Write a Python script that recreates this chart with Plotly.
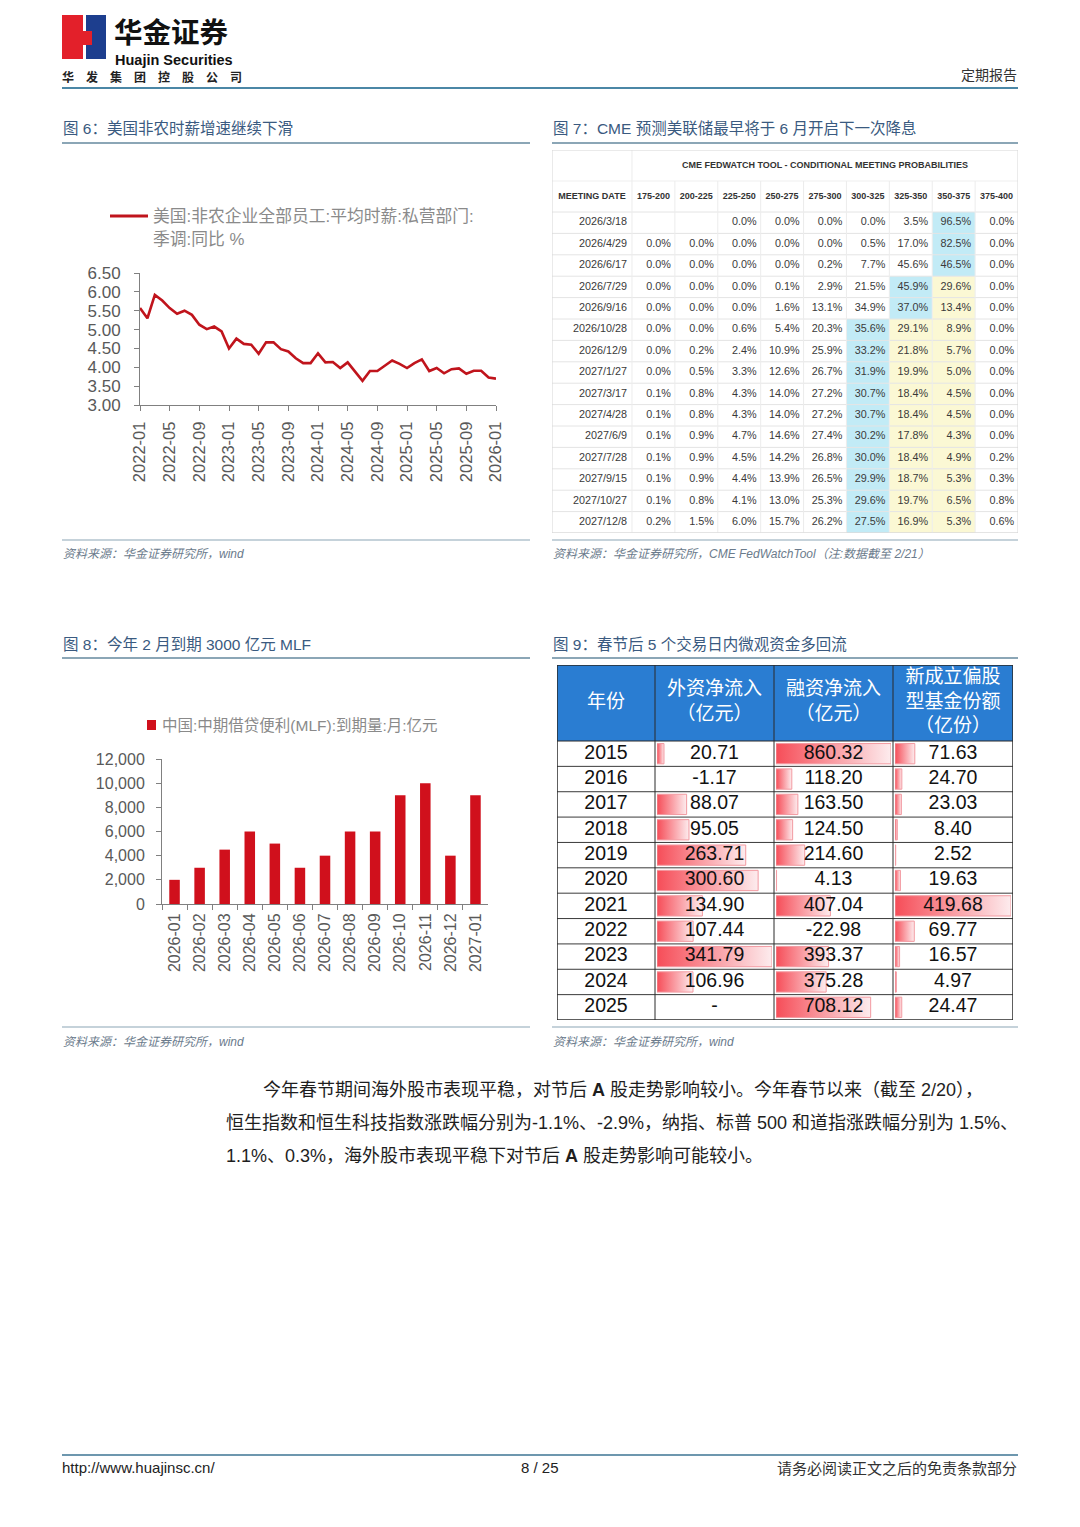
import plotly.graph_objects as go

W, H = 1080, 1527
OFF = 8  # page body margin of the html page, compensated in all placements

# ---------------- data ----------------
wage_months = [f"{y}-{m:02d}" for y in range(2022, 2026) for m in range(1, 13)] + ["2026-01"]
wage_yoy = [5.57, 5.30, 5.92, 5.77, 5.57, 5.42, 5.50, 5.39, 5.13, 5.01, 5.08, 4.95,
            4.50, 4.76, 4.62, 4.60, 4.36, 4.66, 4.66, 4.48, 4.42, 4.24, 4.11, 4.11,
            4.37, 4.13, 4.14, 3.98, 4.13, 3.89, 3.64, 3.90, 3.90, 4.04, 4.18, 4.09,
            3.98, 4.11, 4.21, 3.90, 3.98, 3.84, 3.95, 3.97, 3.83, 3.91, 3.91, 3.73,
            3.70]
wage_ticks = wage_months[::4]

mlf_months = ["2026-01", "2026-02", "2026-03", "2026-04", "2026-05", "2026-06", "2026-07",
              "2026-08", "2026-09", "2026-10", "2026-11", "2026-12", "2027-01"]
mlf_values = [2000, 3000, 4500, 6000, 5000, 3000, 4000, 6000, 6000, 9000, 10000, 4000, 9000]

fed_title = "CME FEDWATCH TOOL - CONDITIONAL MEETING PROBABILITIES"
fed_dates = ["2026/3/18", "2026/4/29", "2026/6/17", "2026/7/29", "2026/9/16", "2026/10/28",
             "2026/12/9", "2027/1/27", "2027/3/17", "2027/4/28", "2027/6/9", "2027/7/28",
             "2027/9/15", "2027/10/27", "2027/12/8"]
fed_buckets = ["175-200", "200-225", "225-250", "250-275", "275-300", "300-325",
               "325-350", "350-375", "375-400"]
fed_probs = [
    [None, None, 0.0, 0.0, 0.0, 0.0, 3.5, 96.5, 0.0],
    [0.0, 0.0, 0.0, 0.0, 0.0, 0.5, 17.0, 82.5, 0.0],
    [0.0, 0.0, 0.0, 0.0, 0.2, 7.7, 45.6, 46.5, 0.0],
    [0.0, 0.0, 0.0, 0.1, 2.9, 21.5, 45.9, 29.6, 0.0],
    [0.0, 0.0, 0.0, 1.6, 13.1, 34.9, 37.0, 13.4, 0.0],
    [0.0, 0.0, 0.6, 5.4, 20.3, 35.6, 29.1, 8.9, 0.0],
    [0.0, 0.2, 2.4, 10.9, 25.9, 33.2, 21.8, 5.7, 0.0],
    [0.0, 0.5, 3.3, 12.6, 26.7, 31.9, 19.9, 5.0, 0.0],
    [0.1, 0.8, 4.3, 14.0, 27.2, 30.7, 18.4, 4.5, 0.0],
    [0.1, 0.8, 4.3, 14.0, 27.2, 30.7, 18.4, 4.5, 0.0],
    [0.1, 0.9, 4.7, 14.6, 27.4, 30.2, 17.8, 4.3, 0.0],
    [0.1, 0.9, 4.5, 14.2, 26.8, 30.0, 18.4, 4.9, 0.2],
    [0.1, 0.9, 4.4, 13.9, 26.5, 29.9, 18.7, 5.3, 0.3],
    [0.1, 0.8, 4.1, 13.0, 25.3, 29.6, 19.7, 6.5, 0.8],
    [0.2, 1.5, 6.0, 15.7, 26.2, 27.5, 16.9, 5.3, 0.6],
]
fed_current = "350-375"

flow_headers = ["年份", "外资净流入<br>（亿元）", "融资净流入<br>（亿元）", "新成立偏股<br>型基金份额<br>（亿份）"]
flow_years = [2015, 2016, 2017, 2018, 2019, 2020, 2021, 2022, 2023, 2024, 2025]
flow_foreign = [20.71, -1.17, 88.07, 95.05, 263.71, 300.60, 134.90, 107.44, 341.79, 106.96, None]
flow_margin = [860.32, 118.20, 163.50, 124.50, 214.60, 4.13, 407.04, -22.98, 393.37, 375.28, 708.12]
flow_fund = [71.63, 24.70, 23.03, 8.40, 2.52, 19.63, 419.68, 69.77, 16.57, 4.97, 24.47]

# ---------------- styles ----------------
CJK = "Noto Sans CJK SC"
MIX = "Liberation Sans, Arial, Noto Sans CJK SC"
TITLE_C = "#3a5a80"
RULE_C = "#8ba6b6"
SRC_C = "#6b7b8c"
RED_LINE = "#c0141c"
RED_BAR = "#d0101c"
AX_C = "#808080"
TICK_C = "#595959"

fig = go.Figure()
shapes, anns = [], []


def X(px):
    return (px - OFF) / W


def Y(py):
    return 1 - (py - OFF) / H


def note(x, y, s, size, color="#222222", family=MIX, xanchor="left", yanchor="middle"):
    anns.append(dict(xref="paper", yref="paper", x=X(x), y=Y(y), text=s, showarrow=False,
                     xanchor=xanchor, yanchor=yanchor, borderpad=0,
                     font=dict(size=size, color=color, family=family)))


def pline(x0, x1, y, color, width):
    shapes.append(dict(type="line", xref="paper", yref="paper", x0=X(x0), x1=X(x1),
                       y0=Y(y), y1=Y(y), line=dict(color=color, width=width)))


def prect(x0, y0, x1, y1, fill):
    shapes.append(dict(type="rect", xref="paper", yref="paper", x0=X(x0), x1=X(x1),
                       y0=Y(y0), y1=Y(y1), fillcolor=fill, line=dict(width=0), layer="below"))


# ---------------- page header ----------------
prect(62, 15, 83, 59, "#e3202a")
prect(86, 15, 106, 59, "#1d3e8e")
prect(83, 31, 92, 45, "#e3202a")
note(113, 30, "<b>华金证券</b>", 28.5, "#111111", CJK)
note(114, 50.5, "<b>Huajin Securities</b>", 14.5, "#111111", "Liberation Sans", yanchor="top")
note(61, 76, "<b>华　发　集　团　控　股　公　司</b>", 12, "#222222", CJK)
note(1018, 74, "定期报告", 14, "#333333", CJK, xanchor="right")
pline(62, 1018, 88, "#4b87a6", 2)

# ---------------- section titles / sources ----------------
note(62, 128, "图 6：美国非农时薪增速继续下滑", 15.5, TITLE_C)
pline(62, 530, 143, RULE_C, 2)
note(552, 128, "图 7：CME 预测美联储最早将于 6 月开启下一次降息", 15.5, TITLE_C)
pline(552, 1018, 143, RULE_C, 2)
pline(62, 530, 540, RULE_C, 1.2)
pline(552, 1018, 540, RULE_C, 1.2)
note(62, 554, "<i>资料来源：华金证券研究所，wind</i>", 12, SRC_C)
note(552, 554, "<i>资料来源：华金证券研究所，CME FedWatchTool（注:数据截至 2/21）</i>", 12, SRC_C)

note(62, 644, "图 8：今年 2 月到期 3000 亿元 MLF", 15.5, TITLE_C)
pline(62, 530, 658, RULE_C, 2)
note(552, 644, "图 9：春节后 5 个交易日内微观资金多回流", 15.5, TITLE_C)
pline(552, 1018, 658, RULE_C, 2)
pline(62, 530, 1027, RULE_C, 1.2)
pline(552, 1018, 1027, RULE_C, 1.2)
note(62, 1042, "<i>资料来源：华金证券研究所，wind</i>", 12, SRC_C)
note(552, 1042, "<i>资料来源：华金证券研究所，wind</i>", 12, SRC_C)

# ---------------- Fig 6 : line chart ----------------
shapes.append(dict(type="line", xref="paper", yref="paper", x0=X(110), x1=X(148),
                   y0=Y(216), y1=Y(216), line=dict(color=RED_LINE, width=3)))
note(152, 216, "美国:非农企业全部员工:平均时薪:私营部门:", 16.8, "#8a8a8a")
note(152, 239, "季调:同比 %", 16.8, "#8a8a8a")

fig.add_trace(go.Scatter(x=wage_months, y=wage_yoy, mode="lines",
                         line=dict(color=RED_LINE, width=2.6),
                         xaxis="x", yaxis="y", hoverinfo="skip", showlegend=False))

# ---------------- Fig 8 : bar chart ----------------
prect(147, 720, 156, 730, RED_BAR)
note(161, 725, "中国:中期借贷便利(MLF):到期量:月:亿元", 15.5, "#8a8a8a")

fig.add_trace(go.Bar(x=mlf_months, y=mlf_values, marker=dict(color=RED_BAR, line=dict(width=0)),
                     width=0.42, xaxis="x2", yaxis="y2", hoverinfo="skip", showlegend=False))

# ---------------- Fig 7 : FedWatch table (axis x3/y3, pixel units) ----------------
T7_X0, T7_X1, T7_Y0, T7_Y1 = 552, 1018, 150, 533
t7_colw = [80] + [42.9] * len(fed_buckets)
t7_title_h, t7_head_h = 31, 31
t7_row_h = (T7_Y1 - T7_Y0 - t7_title_h - t7_head_h) / len(fed_dates)
t7_edges = [0]
for w_ in t7_colw:
    t7_edges.append(t7_edges[-1] + w_)
t7_w = t7_edges[-1]
t7_h = T7_Y1 - T7_Y0
GRID7 = "#e4e4e4"


def s7(**kw):
    d = dict(xref="x3", yref="y3", layer="below")
    d.update(kw)
    shapes.append(d)


cur_idx = fed_buckets.index(fed_current)
for r, row in enumerate(fed_probs):
    vals = [v if v is not None else -1 for v in row]
    m = vals.index(max(vals))
    y0 = t7_title_h + t7_head_h + r * t7_row_h
    for c in range(len(row)):
        fill = None
        if c == m:
            fill = "#c2ebf6"
        elif m < c <= cur_idx:
            fill = "#fbf8d4"
        if fill:
            s7(type="rect", x0=t7_edges[c + 1], x1=t7_edges[c + 2], y0=y0, y1=y0 + t7_row_h,
               fillcolor=fill, line=dict(width=0))

for k in range(len(fed_dates) + 1):
    yy = t7_title_h + t7_head_h + k * t7_row_h
    s7(type="line", x0=0, x1=t7_w, y0=yy, y1=yy, line=dict(color=GRID7, width=1))
s7(type="line", x0=0, x1=t7_w, y0=t7_title_h, y1=t7_title_h, line=dict(color="#efefef", width=1))
for k, e in enumerate(t7_edges[1:-1]):
    s7(type="line", x0=e, x1=e, y0=(0 if k == 0 else t7_title_h), y1=t7_h,
       line=dict(color="#ececec", width=1))
s7(type="rect", x0=0, x1=t7_w, y0=0, y1=t7_h, line=dict(color="#d6d6d6", width=1))

hx, hy, ht = [], [], []
hx.append((t7_edges[1] + t7_w) / 2); hy.append(t7_title_h / 2); ht.append(f"<b>{fed_title}</b>")
hx.append(t7_colw[0] / 2); hy.append(t7_title_h + t7_head_h / 2); ht.append("<b>MEETING DATE</b>")
for c, b in enumerate(fed_buckets):
    hx.append((t7_edges[c + 1] + t7_edges[c + 2]) / 2)
    hy.append(t7_title_h + t7_head_h / 2)
    ht.append(f"<b>{b}</b>")
fig.add_trace(go.Scatter(x=hx, y=hy, text=ht, mode="text", textposition="middle center",
                         textfont=dict(size=9, color="#333333", family="Liberation Sans"),
                         xaxis="x3", yaxis="y3", hoverinfo="skip", showlegend=False))

vx, vy, vt = [], [], []
for r, (d, row) in enumerate(zip(fed_dates, fed_probs)):
    yc = t7_title_h + t7_head_h + (r + 0.5) * t7_row_h
    vx.append(t7_edges[1] - 5); vy.append(yc); vt.append(d)
    for c, v in enumerate(row):
        if v is None:
            continue
        vx.append(t7_edges[c + 2] - 4); vy.append(yc); vt.append(f"{v:.1f}%")
fig.add_trace(go.Scatter(x=vx, y=vy, text=vt, mode="text", textposition="middle left",
                         textfont=dict(size=10.8, color="#3a3a3a", family="Liberation Sans"),
                         xaxis="x3", yaxis="y3", hoverinfo="skip", showlegend=False))

# ---------------- Fig 9 : flows table ----------------
T9_X0, T9_X1, T9_Y0, T9_Y1 = 557, 1013, 665, 1020
t9_colw = [98, 119, 119, 120]
t9_head_h = 76
t9_edges = [0]
for w_ in t9_colw:
    t9_edges.append(t9_edges[-1] + w_)
t9_w = t9_edges[-1]
t9_h = T9_Y1 - T9_Y0
t9_row_h = (t9_h - t9_head_h) / len(flow_years)

bar_cols = [flow_foreign, flow_margin, flow_fund]
bar_axes = ["x4", "x5", "x6"]
for col_vals, ax in zip(bar_cols, bar_axes):
    for i, v in enumerate(col_vals):
        if v is None or v <= 0:
            continue
        fig.add_trace(go.Scatter(
            x=[0, v, v, 0, 0], y=[i - 0.4, i - 0.4, i + 0.4, i + 0.4, i - 0.4],
            mode="lines", fill="toself",
            fillgradient=dict(type="horizontal", colorscale=[[0, "#f64d58"], [1, "#fdecee"]]),
            line=dict(color="#f29aa1", width=1),
            xaxis=ax, yaxis="y4", hoverinfo="skip", showlegend=False))


def s9(**kw):
    d = dict(xref="x7", yref="y7", layer="below")
    d.update(kw)
    shapes.append(d)


s9(type="rect", x0=0, x1=t9_w, y0=0, y1=t9_head_h, fillcolor="#2a7dd2", line=dict(width=0))
for k in range(1, len(flow_years)):
    yy = t9_head_h + k * t9_row_h
    s9(type="line", x0=0, x1=t9_w, y0=yy, y1=yy, line=dict(color="#3a3a3a", width=1))
s9(type="line", x0=0, x1=t9_w, y0=t9_head_h, y1=t9_head_h, line=dict(color="#2a2a2a", width=1.2))
for e in t9_edges[1:-1]:
    s9(type="line", x0=e, x1=e, y0=0, y1=t9_h, line=dict(color="#2a2a2a", width=1))
s9(type="rect", x0=0, x1=t9_w, y0=0, y1=t9_h, line=dict(color="#2a2a2a", width=1.5))

th_x = [(t9_edges[c] + t9_edges[c + 1]) / 2 for c in range(4)]
fig.add_trace(go.Scatter(x=th_x, y=[t9_head_h / 2] * 4, text=flow_headers, mode="text",
                         textposition="middle center",
                         textfont=dict(size=19, color="#ffffff", family=CJK),
                         xaxis="x7", yaxis="y7", hoverinfo="skip", showlegend=False))


def fmt(v):
    return "-" if v is None else f"{v:.2f}"


cx, cy, ct = [], [], []
for i, yr in enumerate(flow_years):
    yc = t9_head_h + (i + 0.5) * t9_row_h
    row_txt = [str(yr), fmt(flow_foreign[i]), fmt(flow_margin[i]), fmt(flow_fund[i])]
    for c, s in enumerate(row_txt):
        cx.append(th_x[c]); cy.append(yc); ct.append(s)
fig.add_trace(go.Scatter(x=cx, y=cy, text=ct, mode="text", textposition="middle center",
                         textfont=dict(size=19.5, color="#111111", family="Liberation Sans"),
                         xaxis="x7", yaxis="y7", hoverinfo="skip", showlegend=False))

# ---------------- paragraph ----------------
note(262, 1090, "今年春节期间海外股市表现平稳，对节后 <b>A</b> 股走势影响较小。今年春节以来（截至 2/20），",
     18, "#1e1e1e", MIX)
note(225, 1123, "恒生指数和恒生科技指数涨跌幅分别为-1.1%、-2.9%，纳指、标普 500 和道指涨跌幅分别为 1.5%、",
     18, "#1e1e1e", MIX)
note(225, 1156, "1.1%、0.3%，海外股市表现平稳下对节后 <b>A</b> 股走势影响可能较小。", 18, "#1e1e1e", MIX)

# ---------------- footer ----------------
pline(62, 1018, 1455, "#6d97ae", 2)
note(61, 1467, "http://www.huajinsc.cn/", 15, "#222222", "Liberation Sans")
note(540, 1467, "8 / 25", 15, "#222222", "Liberation Sans", xanchor="center")
note(1018, 1467, "请务必阅读正文之后的免责条款部分", 15, "#333333", CJK, xanchor="right")

# ---------------- axes ----------------
common_tick = dict(ticks="outside", ticklen=5, tickcolor=AX_C, showline=True, linecolor=AX_C,
                   linewidth=1, showgrid=False, zeroline=False, automargin=False)
hidden = dict(visible=False, showgrid=False, zeroline=False, fixedrange=True, automargin=False)

fig.update_layout(
    template="none",
    width=W, height=H, autosize=False,
    margin=dict(l=0, r=0, t=0, b=0, pad=0, autoexpand=False),
    paper_bgcolor="white", plot_bgcolor="rgba(0,0,0,0)",
    showlegend=False,
    xaxis=dict(domain=[X(140), X(496)], anchor="y", type="category", range=[0, 48],
               tickmode="array", tickvals=wage_ticks, ticktext=wage_ticks, tickangle=-90,
               ticklabelstandoff=4,
               tickfont=dict(size=16.5, color=TICK_C, family="Liberation Sans"), **common_tick),
    yaxis=dict(domain=[Y(405), Y(273)], anchor="x", range=[3, 6.5], dtick=0.5, tick0=3,
               tickformat=".2f", ticklabelstandoff=10,
               tickfont=dict(size=17, color=TICK_C, family="Liberation Sans"), **common_tick),
    xaxis2=dict(domain=[X(162), X(488)], anchor="y2", type="category", range=[-0.5, 12.5],
                tickson="boundaries", tickangle=-90, ticklabelstandoff=2,
                tickfont=dict(size=16, color=TICK_C, family="Liberation Sans"), **common_tick),
    yaxis2=dict(domain=[Y(904), Y(759)], anchor="x2", range=[0, 12000], dtick=2000,
                tickformat=",", ticklabelstandoff=8,
                tickfont=dict(size=16, color=TICK_C, family="Liberation Sans"), **common_tick),
    xaxis3=dict(domain=[X(T7_X0), X(T7_X1)], anchor="y3", range=[0, t7_w], **hidden),
    yaxis3=dict(domain=[Y(T7_Y1), Y(T7_Y0)], anchor="x3", range=[t7_h, 0], **hidden),
    xaxis4=dict(domain=[X(T9_X0 + t9_edges[1] + 2), X(T9_X0 + t9_edges[2] - 2)], anchor="y4",
                range=[0, max(v for v in flow_foreign if v is not None)], **hidden),
    xaxis5=dict(domain=[X(T9_X0 + t9_edges[2] + 2), X(T9_X0 + t9_edges[3] - 2)], anchor="y4",
                range=[0, max(flow_margin)], **hidden),
    xaxis6=dict(domain=[X(T9_X0 + t9_edges[3] + 2), X(T9_X0 + t9_edges[4] - 2)], anchor="y4",
                range=[0, max(flow_fund)], **hidden),
    yaxis4=dict(domain=[Y(T9_Y1), Y(T9_Y0 + t9_head_h)], anchor="x4",
                range=[len(flow_years) - 0.5, -0.5], **hidden),
    xaxis7=dict(domain=[X(T9_X0), X(T9_X1)], anchor="y7", range=[0, t9_w], **hidden),
    yaxis7=dict(domain=[Y(T9_Y1), Y(T9_Y0)], anchor="x7", range=[t9_h, 0], **hidden),
    shapes=shapes,
    annotations=anns,
)

fig.write_html("out.html")
